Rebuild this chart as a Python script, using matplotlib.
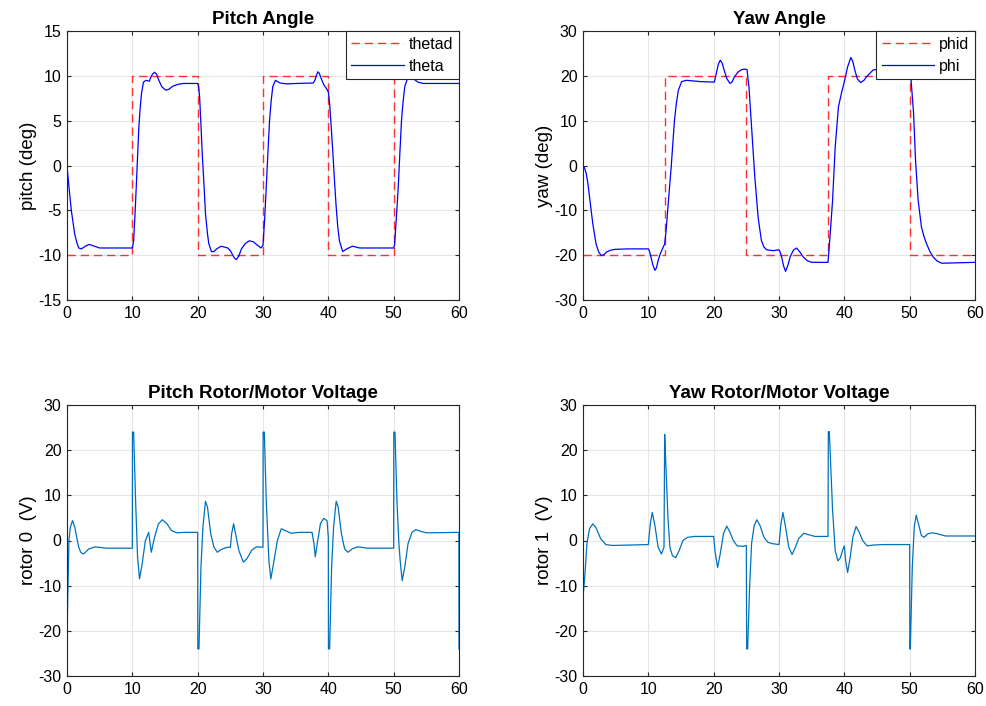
import matplotlib.pyplot as plt
import numpy as np

plt.rcParams['font.family'] = ['Liberation Sans', 'DejaVu Sans']
plt.rcParams['axes.unicode_minus'] = False

# desired reference steps (time, value)
thetad_t = [0, 10, 10, 20, 20, 30, 30, 40, 40, 50, 50, 60]
thetad_v = [-10, -10, 10, 10, -10, -10, 10, 10, -10, -10, 10, 10]

phid_t = [0, 12.5, 12.5, 25, 25, 37.5, 37.5, 50, 50, 60]
phid_v = [-20, -20, 20, 20, -20, -20, 20, 20, -20, -20]

theta_t = [0, 0.3, 0.66, 1.17, 1.5, 1.8, 2.2, 2.8, 3.4, 4.2, 5, 10, 10.2, 10.4, 10.6, 10.8,
           11.0, 11.2, 11.4, 11.7, 12.1, 12.6, 12.8, 13.1, 13.4, 13.7, 14.0, 14.5, 15.1,
           15.6, 16.2, 17.0, 17.8, 20, 20.15, 20.3, 20.5, 20.7, 21.0, 21.2, 21.5, 21.7,
           22.1, 22.5, 22.9, 23.6, 24.6, 25.0, 25.3, 25.6, 25.9, 26.3, 26.7, 27.3, 27.9,
           28.5, 29, 29.7, 30, 30.25, 30.5, 30.75, 31.0, 31.25, 31.5, 31.9, 32.6, 33.6,
           35.1, 37.7, 38.0, 38.2, 38.4, 38.6, 38.8, 39.3, 39.7, 40, 40.2, 40.45, 40.7,
           40.95, 41.2, 41.45, 41.7, 42.2, 42.8, 43.7, 44.8, 50, 50.15, 50.4, 50.7, 50.95,
           51.2, 51.45, 51.7, 52.2, 53.0, 53.7, 54.5, 60]
theta_v = [0, -2.4, -5, -7.6, -8.6, -9.2, -9.3, -9.0, -8.8, -9.0, -9.2, -9.2, -8.4, -5.6,
           -2.4, 1.0, 4.3, 6.4, 8.0, 9.3, 9.5, 9.4, 9.8, 10.2, 10.4, 10.2, 9.6, 8.8, 8.4,
           8.5, 8.85, 9.05, 9.15, 9.15, 8.8, 7.65, 4.6, 1.3, -2.6, -5.4, -7.6, -8.7,
           -9.6, -9.6, -9.3, -9.0, -9.2, -9.5, -9.9, -10.3, -10.5, -10.1, -9.3, -8.7, -8.4,
           -8.5, -8.8, -9.2, -8.9, -6.0, -2.4, 1.4, 5.0, 7.2, 8.8, 9.5, 9.2, 9.1,
           9.15, 9.2, 9.6, 10.1, 10.45, 10.3, 9.9, 9.0, 8.6, 8.2, 6.9, 4.2, 1.3,
           -1.8, -4.6, -6.9, -8.4, -9.6, -9.3, -9.0, -9.2, -9.2, -8.8, -6.0, -2.4, 1.4,
           5.0, 7.2, 8.8, 9.9, 9.7, 9.3, 9.15, 9.15]

# measured yaw angle
phi_t = [0, 0.25, 0.5, 0.75, 1.0, 1.5, 2.0, 2.4, 2.8, 3.2, 3.6, 4.2, 4.9, 6.9, 10, 10.2,
         10.4, 10.7, 11.0, 11.25, 11.5, 11.8, 12.1, 12.5, 12.75, 13.0, 13.5, 14.0, 14.3,
         14.6, 15.1, 15.8, 18.1, 20.1, 20.4, 20.7, 21.0, 21.3, 21.6, 22.0, 22.5, 22.8,
         23.2, 23.7, 24.3, 24.8, 25.1, 25.4, 25.8, 26.3, 26.8, 27.3, 27.7, 28.1, 29.1,
         30.0, 30.2, 30.4, 30.7, 31.0, 31.35, 31.7, 32.2, 32.7, 33.2, 33.7, 34.3, 35.0,
         37.5, 37.8, 38.2, 38.6, 39.1, 39.6, 40.0, 40.5, 41.0, 41.3, 41.6, 42.0, 42.5,
         43.0, 43.4, 44.4, 45.7, 47, 49.8, 50.2, 50.6, 50.9, 51.3, 51.8, 52.2, 52.6,
         53.1, 53.6, 54.2, 54.9, 57.5, 60]
phi_v = [0, -0.6, -1.8, -4.0, -7, -13, -17.5, -19.3, -20.1, -19.9, -19.3, -18.9, -18.7,
         -18.6, -18.6, -19.2, -20.4, -22.2, -23.4, -22.8, -21.2, -19.8, -18.8, -17.5,
         -14.0, -9.3, -0.3, 10.1, 14.0, 16.8, 18.7, 19.0, 18.7, 18.6, 20.5, 22.5, 23.5,
         22.8, 21.3, 19.4, 18.3, 18.6, 19.8, 20.8, 21.4, 21.5, 21.4, 17.6, 8.6, -2.6,
         -11.5, -16.7, -18.2, -18.8, -19.0, -18.8, -19.4, -20.4, -22.4, -23.6, -22.3,
         -20.4, -18.9, -18.4, -19.3, -20.4, -21.2, -21.6, -21.6, -16, -7.8, 4.1, 13.1,
         16.4, 18.7, 22, 24.1, 23.2, 21.3, 19.3, 18.5, 19.0, 19.8, 21.3, 21.6, 21.6,
         21.5, 19.4, 11.6, 1.1, -7.8, -13.7, -15.9, -17.5, -19.2, -20.4, -21.3, -21.8,
         -21.7, -21.6]

# rotor 0 voltage
u0_t = [0, 0.15, 0.3, 0.5, 0.85, 1.2, 1.5, 1.8, 2.1, 2.5, 2.9, 3.3, 4.3, 6, 10, 10.02,
        10.2, 10.5, 10.8, 11.1, 11.5, 12.0, 12.5, 12.9, 13.4, 14.0, 14.6, 15.3, 16.0,
        16.8, 18, 20, 20.02, 20.2, 20.5, 20.8, 21.2, 21.5, 22.0, 22.5, 23.0, 23.6, 24.5,
        25.0, 25.2, 25.5, 25.8, 26.3, 27, 27.5, 28.3, 29, 30, 30.02, 30.2, 30.5, 30.9,
        31.2, 31.6, 32.2, 32.8, 33.4, 34.3, 35.5, 37.5, 37.8, 38.0, 38.3, 38.8, 39.3,
        39.8, 40.0, 40.02, 40.2, 40.5, 40.8, 41.2, 41.5, 42, 42.5, 43, 43.7, 44.5, 46,
        50, 50.02, 50.2, 50.5, 50.8, 51.0, 51.3, 51.7, 52.2, 52.8, 53.4, 54.2, 55,
        59.98, 60]
u0_v = [-21, -10, 0, 2.9, 4.4, 2.9, 0.6, -1.5, -2.6, -3.0, -2.5, -1.9, -1.4, -1.7, -1.7,
        24, 24, 8.8, -3.7, -8.5, -5.2, 0, 1.8, -2.6, 0.7, 3.7, 4.6, 3.7, 2.2, 1.7, 1.8,
        1.8, -24, -24, -6, 2.9, 8.7, 7.4, 1.5, -1.5, -2.6, -2.0, -1.5, -1.5, 1.5, 3.7,
        1.5, -2.2, -4.8, -4.1, -2.1, -1.4, -1.5, 24, 24, 8.8, -4.5, -8.5, -5.2, 0, 2.6,
        2.2, 1.6, 1.8, 1.8, -0.7, -3.6, -0.7, 3.8, 4.9, 4.4, 0.7, -24, -24, -6, 2.9,
        8.7, 7.4, 1.5, -1.9, -2.6, -1.8, -1.4, -1.7, -1.7, 24, 24, 8.8, -0.7, -4.5,
        -8.9, -5.9, -0.7, 1.8, 2.4, 2.0, 1.7, 1.8, -24]

# rotor 1 voltage
u1_t = [0, 0.3, 0.6, 1.0, 1.5, 2.0, 2.7, 3.5, 4.5, 10, 10.3, 10.6, 11.0, 11.5, 12.0, 12.4,
        12.5, 12.65, 13.0, 13.3, 13.7, 14.2, 14.7, 15.3, 16.0, 17, 20, 20.2, 20.6, 21.0,
        21.5, 22.0, 22.5, 23.0, 23.6, 24.5, 25.0, 25.05, 25.2, 25.5, 25.8, 26.2, 26.6,
        27.1, 27.7, 28.3, 29, 30, 30.3, 30.6, 31, 31.5, 32.0, 32.5, 33.0, 33.8, 34.5,
        35.5, 37.5, 37.55, 37.7, 38.2, 38.6, 39.0, 39.4, 39.8, 40.0, 40.2, 40.5, 40.9,
        41.3, 41.8, 42.3, 42.8, 43.5, 44.5, 46, 50, 50.02, 50.1, 50.4, 50.7, 51.0, 51.4,
        51.8, 52.2, 52.8, 53.4, 54.2, 55.5, 60]
u1_v = [-12.6, -7.4, -0.7, 2.6, 3.7, 2.8, 0.4, -0.9, -1.1, -0.9, 3.7, 6.2, 3.4, -1.5, -3.0,
        -1.5, 23.5, 18, 5.1, -1.5, -3.4, -3.8, -2.3, 0, 0.7, 0.9, 0.9, -2.3, -6, -3.0,
        1.5, 3.2, 1.8, 0, -1.2, -1.3, -1.1, -24, -24, -10.4, -0.7, 3.3, 4.6,
        3.3, 0.7, -0.4, -0.7, -0.9, 3.7, 6.2, 3.0, -1.5, -3.1, -1.5, 0.4, 1.6, 1.3,
        0.9, 0.9, 24.1, 24.1, 6.7, -2.2, -4.5, -3.8, -1.9, -1.2, -4.5, -7.1, -3.7,
        0.7, 3.1, 1.8, 0, -1.2, -1.0, -0.9, -0.9, -24, -24, -6, 3, 5.6, 3.4,
        1.1, 0.7, 1.5, 1.7, 1.5, 1.0, 1.0]

fig = plt.figure(figsize=(9.87, 7.06), dpi=100)
ax_w, ax_h = 392 / 987, 269 / 706
ax1 = fig.add_axes([67 / 987, 1 - 300 / 706, ax_w, ax_h])
ax2 = fig.add_axes([583 / 987, 1 - 300 / 706, ax_w, ax_h])
ax3 = fig.add_axes([67 / 987, 1 - 676 / 706, ax_w, 271 / 706])
ax4 = fig.add_axes([583 / 987, 1 - 676 / 706, ax_w, 271 / 706])


def style(ax, title, ylabel, ylim, yticks):
    ax.set_xlim(0, 60)
    ax.set_ylim(*ylim)
    ax.set_xticks(np.arange(0, 61, 10))
    ax.set_yticks(yticks)
    ax.grid(True, color='#e6e6e6', linewidth=0.8)
    ax.set_axisbelow(True)
    ax.set_title(title, fontsize=13.5, fontweight='bold', pad=5)
    ax.set_ylabel(ylabel, fontsize=13.5, labelpad=1)
    ax.tick_params(direction='in', top=True, right=True, labelsize=11.5,
                   color='#262626', length=3, pad=4)
    for s in ax.spines.values():
        s.set_color('#262626')
        s.set_linewidth(0.8)


def add_legend(ax):
    leg = ax.legend(loc='upper right', fontsize=11.5, fancybox=False, framealpha=1,
                    borderaxespad=0.0, handlelength=3.3, borderpad=0.35,
                    labelspacing=0.45, handletextpad=0.3)
    leg.get_frame().set_edgecolor('#262626')
    leg.get_frame().set_linewidth(0.8)


ax1.plot(thetad_t, thetad_v, '--', color='#ff3030', linewidth=1.0, dashes=(6, 3.5), label='thetad')
ax1.plot(theta_t, theta_v, color='#0000ff', linewidth=0.9, label='theta')
style(ax1, 'Pitch Angle', 'pitch (deg)', (-15, 15), np.arange(-15, 16, 5))
add_legend(ax1)

ax2.plot(phid_t, phid_v, '--', color='#ff3030', linewidth=1.0, dashes=(6, 3.5), label='phid')
ax2.plot(phi_t, phi_v, color='#0000ff', linewidth=0.9, label='phi')
style(ax2, 'Yaw Angle', 'yaw (deg)', (-30, 30), np.arange(-30, 31, 10))
add_legend(ax2)

ax3.plot(u0_t, u0_v, color='#0072bd', linewidth=0.9)
style(ax3, 'Pitch Rotor/Motor Voltage', 'rotor 0  (V)', (-30, 30), np.arange(-30, 31, 10))

ax4.plot(u1_t, u1_v, color='#0072bd', linewidth=0.9)
style(ax4, 'Yaw Rotor/Motor Voltage', 'rotor 1  (V)', (-30, 30), np.arange(-30, 31, 10))

fig.savefig('out.png', dpi=100)
